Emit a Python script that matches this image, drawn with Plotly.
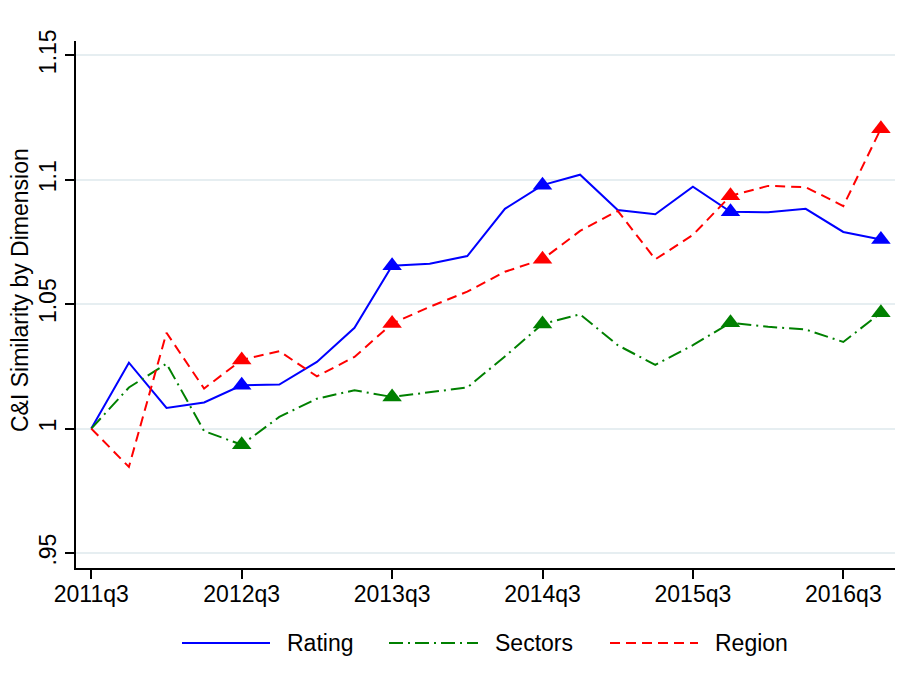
import plotly.graph_objects as go

# Quarterly observations, 2011q3 - 2016q4
quarters = ["2011q3", "2011q4", "2012q1", "2012q2", "2012q3", "2012q4",
            "2013q1", "2013q2", "2013q3", "2013q4", "2014q1", "2014q2",
            "2014q3", "2014q4", "2015q1", "2015q2", "2015q3", "2015q4",
            "2016q1", "2016q2", "2016q3", "2016q4"]

rating = [1.000, 1.0265, 1.0083, 1.0105, 1.0174, 1.0177, 1.0268, 1.0405,
          1.0654, 1.0662, 1.0693, 1.0883, 1.0978, 1.1020, 1.0878, 1.0861,
          1.0972, 1.0871, 1.0869, 1.0883, 1.0790, 1.0760]
sectors = [1.000, 1.0165, 1.0261, 0.9990, 0.9935, 1.0047, 1.0120, 1.0154,
           1.0127, 1.0146, 1.0165, 1.0290, 1.0420, 1.0459, 1.0335, 1.0256,
           1.0335, 1.0425, 1.0409, 1.0398, 1.0348, 1.0465]
region = [1.000, 0.9846, 1.0385, 1.0161, 1.0276, 1.0311, 1.0210, 1.0288,
          1.0422, 1.0489, 1.0550, 1.0630, 1.0680, 1.0794, 1.0875, 1.0680,
          1.0778, 1.0935, 1.0975, 1.0970, 1.0894, 1.1205]

# quarters that carry a triangle marker
marked = ["2012q3", "2013q3", "2014q3", "2015q4", "2016q4"]

xtick_labels = ["2011q3", "2012q3", "2013q3", "2014q3", "2015q3", "2016q3"]
ytick_vals = [0.95, 1.0, 1.05, 1.10, 1.15]
ytick_text = [".95", "1", "1.05", "1.1", "1.15"]

series = [
    ("Rating", rating, "#0000ff", "solid"),
    ("Sectors", sectors, "#008000", "14px,5px,2px,5px"),
    ("Region", region, "#ff0000", "10px,6px"),
]

FONT = "Liberation Sans, Arial, Helvetica, sans-serif"
FS = 23
W, H = 908, 692
ML, MR, MT, MB = 76, 13, 41, 124

fig = go.Figure()
for name, vals, color, dash in series:
    fig.add_trace(go.Scatter(
        x=quarters, y=vals, name=name, mode="lines",
        line=dict(color=color, width=2, dash=dash),
        showlegend=False,
    ))
for name, vals, color, dash in series:
    mx = [q for q in quarters if q in marked]
    my = [v for q, v in zip(quarters, vals) if q in marked]
    fig.add_trace(go.Scatter(
        x=mx, y=my, name=name, mode="markers",
        marker=dict(symbol="triangle-up", size=17, color=color, opacity=1,
                    line=dict(width=0)),
        showlegend=False, hoverinfo="skip",
    ))

# pixel -> paper helpers for the legend and axis title
pw = W - ML - MR
ph = H - MT - MB


def px_x(x):
    return (x - ML) / pw


def px_y(y):
    return (H - MB - y) / ph


shapes = []
annotations = []
legend_y = 643
legend_items = [(182, 270, 285), (389, 478, 493), (610, 698, 713)]
for (name, _, color, dash), (x0, x1, xt) in zip(series, legend_items):
    shapes.append(dict(type="line", xref="paper", yref="paper",
                       x0=px_x(x0), x1=px_x(x1), y0=px_y(legend_y), y1=px_y(legend_y),
                       line=dict(color=color, width=2, dash=dash)))
    annotations.append(dict(text=name, xref="paper", yref="paper",
                            x=px_x(xt), y=px_y(legend_y), xanchor="left",
                            yanchor="middle", showarrow=False,
                            font=dict(family=FONT, size=FS, color="black")))

annotations.append(dict(text="C&I Similarity by Dimension", xref="paper", yref="paper",
                        x=px_x(20), y=px_y(290), xanchor="center", yanchor="middle",
                        textangle=-90, showarrow=False,
                        font=dict(family=FONT, size=FS, color="black")))

fig.update_layout(
    width=W, height=H,
    margin=dict(l=ML, r=MR, t=MT, b=MB),
    paper_bgcolor="white", plot_bgcolor="white",
    font=dict(family=FONT, size=FS, color="black"),
    shapes=shapes, annotations=annotations,
    xaxis=dict(
        type="category", range=[-0.407, 21.375],
        tickmode="array", tickvals=xtick_labels, ticktext=xtick_labels,
        showgrid=False, zeroline=False,
        showline=True, linecolor="black", linewidth=1.5,
        ticks="outside", ticklen=9, tickwidth=1.5, tickcolor="black",
        ticklabelstandoff=-4,
        tickfont=dict(family=FONT, size=FS, color="black"),
    ),
    yaxis=dict(
        range=[0.944, 1.1557],
        tickmode="array", tickvals=ytick_vals, ticktext=ytick_text,
        tickangle=-90,
        showgrid=True, gridcolor="#e6eef1", gridwidth=1.5,
        zeroline=False,
        showline=True, linecolor="black", linewidth=1.5,
        ticks="outside", ticklen=9, tickwidth=1.5, tickcolor="black",
        tickfont=dict(family=FONT, size=FS, color="black"),
    ),
)

fig.write_html("out.html")
